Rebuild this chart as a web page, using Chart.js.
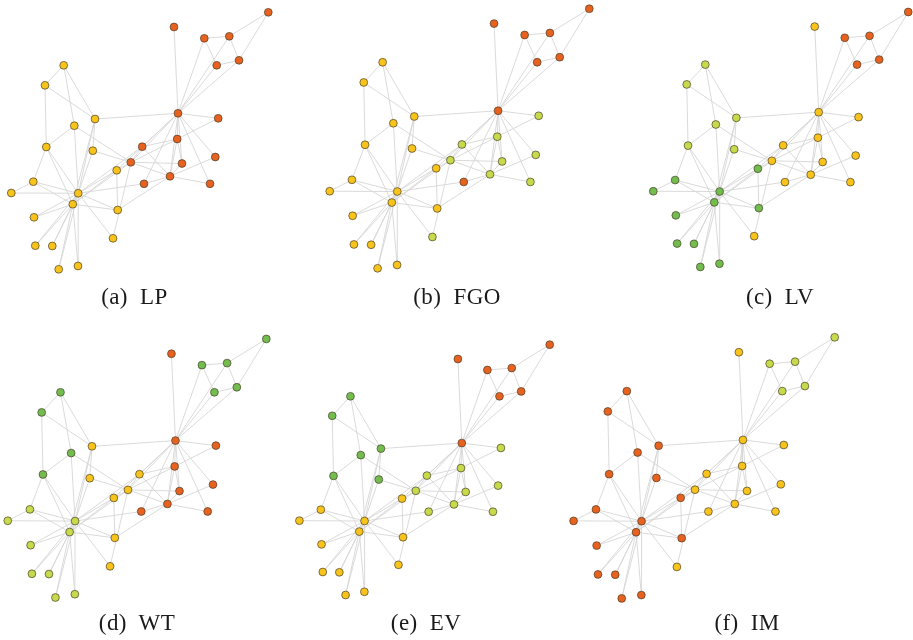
<!DOCTYPE html>
<html>
<head>
<meta charset="utf-8">
<title>Karate club communities</title>
<script src="https://cdn.jsdelivr.net/npm/chart.js@4.4.0/dist/chart.umd.min.js"></script>
<style>
  html, body { margin: 0; padding: 0; background: #fff; }
  #wrap { position: relative; width: 913px; height: 640px; overflow: hidden; }
  #graphs { position: absolute; left: 0; top: 0; }
  .cap {
    position: absolute;
    font-family: "Liberation Serif", "DejaVu Serif", serif;
    font-size: 23px;
    line-height: 23px;
    color: #1a1a1a;
    white-space: nowrap;
    word-spacing: 6px;
    letter-spacing: 0.4px;
    transform: translateX(-50%);
  }
</style>
</head>
<body>
<div id="wrap">
  <canvas id="graphs" width="913" height="640"></canvas>
</div>
<script>
// node positions (layout of panel a, pixels), nodes 1..34
var nodeX = [178, 170, 130.8, 177.2, 216.7, 229.3, 239, 182, 116.7, 113,
             204.3, 174, 218.2, 142.2, 34, 35.3, 268.3, 215.3, 52.3, 144,
             58.7, 210, 78, 46.3, 63.7, 45, 11.3, 74.3, 92.8, 33.3,
             117.7, 95, 72.8, 78.2];
var nodeY = [113.3, 176.3, 162.3, 139, 65.3, 36.3, 60.3, 163.5, 170.3, 238.3,
             38.3, 27, 118.3, 146.7, 217.3, 245.7, 12.3, 157, 246, 183.8,
             269.3, 183.8, 266, 147, 65.3, 85.3, 193, 125.7, 150.7, 181.7,
             210, 119, 204.2, 193.3];

// edges (node numbers)
var edges = [
  [1,2],[1,3],[1,4],[1,5],[1,6],[1,7],[1,8],[1,9],[1,11],[1,12],[1,13],[1,14],[1,18],[1,20],[1,22],[1,32],
  [2,3],[2,4],[2,8],[2,14],[2,18],[2,20],[2,22],[2,31],
  [3,4],[3,8],[3,9],[3,10],[3,14],[3,28],[3,29],[3,33],
  [4,8],[4,13],[4,14],
  [5,7],[5,11],
  [6,7],[6,11],[6,17],
  [7,17],
  [9,31],[9,33],[9,34],
  [10,34],[14,34],
  [15,33],[15,34],[16,33],[16,34],[19,33],[19,34],[20,34],[21,33],[21,34],[23,33],[23,34],
  [24,26],[24,28],[24,30],[24,33],[24,34],
  [25,26],[25,28],[25,32],
  [26,32],[27,30],[27,34],[28,34],[29,32],[29,34],
  [30,33],[30,34],[31,33],[31,34],[32,33],[32,34],[33,34]
];

// community of each node per method: O orange, Y yellow, L light green, G green
var commLP  = "OOOOOOOOYYOOOOYYOOYOYOYYYYYYYYYYYY".split("");
var commFGO = "OLLLOOOLYLOOLLYYOLYOYLYYYYYYYYYYYY".split("");
var commLV  = "YYYYOOOYGYOYYYGGOYGYGYGLLLGLLGGLGG".split("");
var commWT  = "OOYOGGGOYYGOOYLLGOLOLOLGGGLGYLYYLL".split("");
var commEV  = "OLLLOOOLYYOOLLYYOLYLYLYGGGYGGYYGYY".split("");
var commIM  = "YYYYLLLYOYLYYYOOLYOYOYOOOOOOOOOOOO".split("");

var panelNames = ["(a) LP", "(b) FGO", "(c) LV", "(d) WT", "(e) EV", "(f) IM"];
var panelComms = [commLP, commFGO, commLV, commWT, commEV, commIM];

// where each panel sits on the page
var panelLayout = [
  { dx: 0,     dy: 0,     s: 1.0   },
  { dx: 318.3, dy: -3.7,  s: 1.010 },
  { dx: 642.1, dy: -0.2,  s: 0.992 },
  { dx: -3.6,  dy: 326.6, s: 1.006 },
  { dx: 288.4, dy: 332.7, s: 0.974 },
  { dx: 562.1, dy: 324.8, s: 1.016 }
];
var captionPos = [
  { x: 134.4, y: 285 }, { x: 457, y: 285 }, { x: 780, y: 285 },
  { x: 137, y: 611 },   { x: 426, y: 611 }, { x: 747, y: 611 }
];

var palette = { O: "#e8621f", Y: "#f8c41c", L: "#c6da4c", G: "#72bd4d" };

var datasets = [];
panelLayout.forEach(function (lay, p) {
  var pts = nodeX.map(function (x, i) {
    return { x: lay.dx + lay.s * x, y: lay.dy + lay.s * nodeY[i] };
  });

  // nodes
  datasets.push({
    data: pts,
    backgroundColor: panelComms[p].map(function (c) { return palette[c]; }),
    borderColor: "rgba(70,60,40,0.85)",
    borderWidth: 0.8,
    pointRadius: 3.9,
    showLine: false,
    order: 0
  });

  // edges, one segment per edge, broken by NaN points
  var seg = [];
  edges.forEach(function (e) {
    seg.push(pts[e[0] - 1]);
    seg.push(pts[e[1] - 1]);
    seg.push({ x: NaN, y: NaN });
  });
  datasets.push({
    data: seg,
    showLine: true,
    spanGaps: false,
    borderColor: "#d6d6d6",
    borderWidth: 0.9,
    pointRadius: 0,
    order: 1
  });
});

var ctx = document.getElementById("graphs").getContext("2d");
new Chart(ctx, {
  type: "scatter",
  data: { datasets: datasets },
  options: {
    responsive: false,
    maintainAspectRatio: false,
    animation: false,
    layout: { padding: 0, autoPadding: false },
    plugins: {
      legend: { display: false },
      tooltip: { enabled: false }
    },
    scales: {
      x: { type: "linear", min: 0, max: 913, display: false },
      y: { type: "linear", min: 0, max: 640, reverse: true, display: false }
    }
  }
});

// captions under each panel
var wrap = document.getElementById("wrap");
panelNames.forEach(function (name, p) {
  var div = document.createElement("div");
  div.className = "cap";
  div.textContent = name;
  div.style.left = captionPos[p].x + "px";
  div.style.top = captionPos[p].y + "px";
  wrap.appendChild(div);
});
</script>
</body>
</html>
